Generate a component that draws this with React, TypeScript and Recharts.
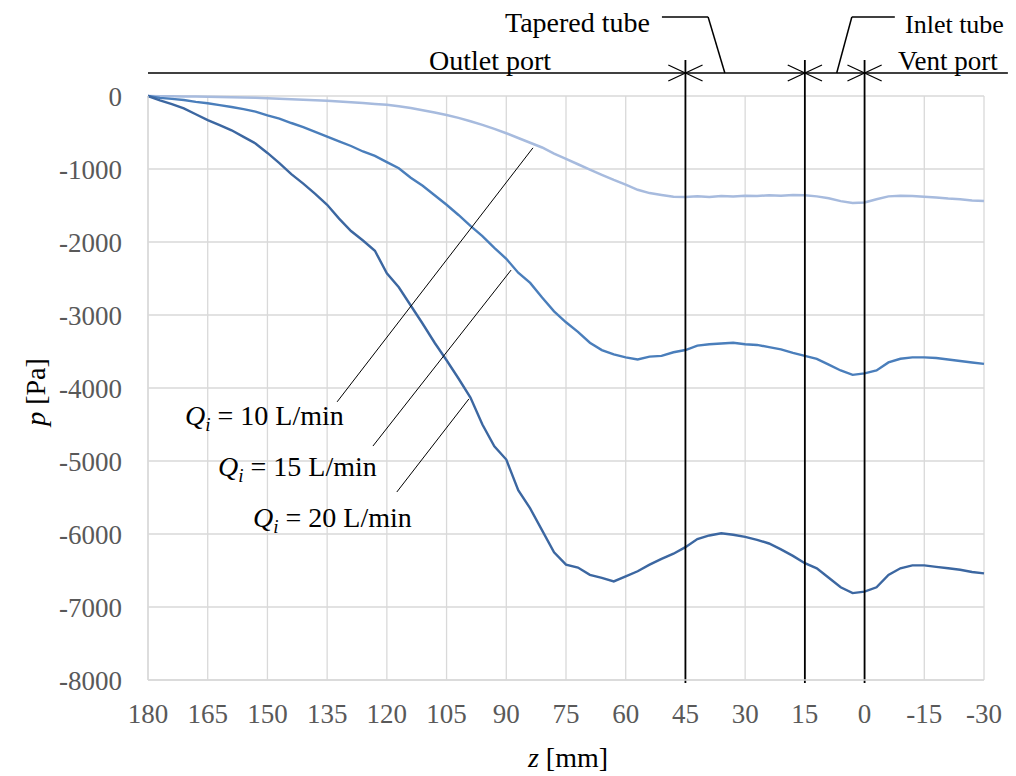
import React from 'react';
import {
  LineChart,
  Line,
  XAxis,
  YAxis,
  CartesianGrid,
  ReferenceLine,
} from 'recharts';

const FONT = '"Liberation Serif", "Times New Roman", serif';

const Z = [
  180, 177, 174, 171, 168, 165, 162, 159, 156, 153,
  150, 147, 144, 141, 138, 135, 132, 129, 126, 123,
  120, 117, 114, 111, 108, 105, 102, 99, 96, 93,
  90, 87, 84, 81, 78, 75, 72, 69, 66, 63,
  60, 57, 54, 51, 48, 45, 42, 39, 36, 33,
  30, 27, 24, 21, 18, 15, 12, 9, 6, 3,
  0, -3, -6, -9, -12, -15, -18, -21, -24, -27,
  -30,
];

// p [Pa] for Qi = 10 L/min
const P10 = [
  0, -2, -4, -6, -8, -10, -13, -17, -21, -25,
  -30, -36, -43, -50, -57, -65, -75, -85, -96, -108,
  -120, -140, -165, -195, -225, -260, -300, -345, -395, -450,
  -510, -575, -640, -705, -790, -860, -935, -1010, -1080, -1150,
  -1215, -1285, -1330, -1355, -1380, -1385, -1375, -1385, -1370, -1375,
  -1365, -1370, -1360, -1365, -1355, -1360, -1375, -1400, -1440, -1465,
  -1460, -1415, -1375, -1365, -1370, -1380, -1390, -1405, -1415, -1430,
  -1440,
];

// p [Pa] for Qi = 15 L/min
const P15 = [
  0, -25, -40, -55, -80, -100, -125, -150, -180, -215,
  -265, -310, -370, -425, -490, -555, -620, -685, -760, -820,
  -905, -990, -1120, -1230, -1360, -1490, -1630, -1780, -1920, -2080,
  -2230, -2420, -2560, -2760, -2950, -3100, -3230, -3380, -3480, -3540,
  -3580, -3610, -3570, -3560, -3510, -3480, -3420, -3400, -3390, -3380,
  -3400, -3410, -3440, -3470, -3520, -3560, -3600, -3680, -3760, -3820,
  -3800, -3760, -3650, -3600, -3580, -3580, -3590, -3610, -3630, -3650,
  -3670,
];

// p [Pa] for Qi = 20 L/min
const P20 = [
  0, -60, -110, -170, -250, -330, -400, -470, -560, -650,
  -780, -920, -1070, -1200, -1340, -1490, -1680, -1850, -1980, -2120,
  -2430, -2620, -2870, -3120, -3380, -3620, -3870, -4130, -4500, -4800,
  -4980, -5400, -5650, -5950, -6250, -6420, -6460, -6560, -6600, -6650,
  -6580, -6510, -6420, -6340, -6270, -6180, -6070, -6020, -5990, -6010,
  -6040, -6080, -6130, -6210, -6300, -6400, -6470, -6600, -6730, -6810,
  -6790, -6730, -6560, -6470, -6430, -6430, -6450, -6470, -6490, -6520,
  -6540,
];

const X_TICKS = [180, 165, 150, 135, 120, 105, 90, 75, 60, 45, 30, 15, 0, -15, -30];
const Y_TICKS = [0, -1000, -2000, -3000, -4000, -5000, -6000, -7000, -8000];

// section boundaries [mm]
const BOUNDS = [45, 15, 0];

const rows = Z.map((z, i) => ({ z, p10: P10[i], p15: P15[i], p20: P20[i] }));

// annotation geometry in data units
const BAR_Y = 315;
const ARROW_DX = 4.3;
const ARROW_DY = 110;

const leaders: Array<[number, number, number, number]> = [
  [132.5, -4190, 83.3, -710],
  [123.5, -4795, 88.8, -2385],
  [117.5, -5425, 99.4, -4150],
  [50.9, 1082, 39.3, 1082],
  [39.3, 1082, 35.1, BAR_Y],
  [3.2, 1082, -7.6, 1082],
  [3.2, 1082, 7.0, BAR_Y],
];

const seg = (x1: number, y1: number, x2: number, y2: number, w: number, key: string) => (
  <ReferenceLine
    key={key}
    segment={[{ x: x1, y: y1 }, { x: x2, y: y2 }]}
    stroke="#000"
    strokeWidth={w}
    ifOverflow="visible"
  />
);

const QLabel = ({ x, y, q }: { x: number; y: number; q: string }) => (
  <text x={x} y={y} fontSize={28} fontFamily={FONT} fill="#000">
    <tspan fontStyle="italic">Q</tspan>
    <tspan fontStyle="italic" fontSize={19} dy={6}>i</tspan>
    <tspan dy={-6}>{` = ${q} L/min`}</tspan>
  </text>
);

export default function App() {
  const annotation: React.ReactNode[] = [];
  annotation.push(seg(180, BAR_Y, -36, BAR_Y, 1.6, 'bar'));
  BOUNDS.forEach((b) => {
    annotation.push(seg(b, 493, b, -8040, 1.8, `v${b}`));
    annotation.push(seg(b + ARROW_DX, BAR_Y + ARROW_DY, b, BAR_Y, 1.3, `a1${b}`));
    annotation.push(seg(b + ARROW_DX, BAR_Y - ARROW_DY, b, BAR_Y, 1.3, `a2${b}`));
    annotation.push(seg(b - ARROW_DX, BAR_Y + ARROW_DY, b, BAR_Y, 1.3, `a3${b}`));
    annotation.push(seg(b - ARROW_DX, BAR_Y - ARROW_DY, b, BAR_Y, 1.3, `a4${b}`));
  });
  leaders.forEach(([x1, y1, x2, y2], i) => {
    annotation.push(seg(x1, y1, x2, y2, i < 3 ? 1 : 1.5, `l${i}`));
  });

  return (
    <div style={{ position: 'relative', width: 1008, height: 768 }}>
      <LineChart
        width={1008}
        height={760}
        data={rows}
        margin={{ top: 88, right: 32, left: 0, bottom: 0 }}
      >
        <CartesianGrid stroke="#d9d9d9" strokeWidth={1.3} />
        <XAxis
          dataKey="z"
          type="number"
          domain={[-30, 180]}
          reversed
          ticks={X_TICKS}
          interval={0}
          height={88}
          tickLine={false}
          tickSize={0}
          tickMargin={24}
          axisLine={{ stroke: '#d9d9d9', strokeWidth: 1.3 }}
          tick={{ fill: '#595959', fontSize: 27, fontFamily: FONT }}
        />
        <YAxis
          type="number"
          domain={[-8000, 0]}
          ticks={Y_TICKS}
          interval={0}
          width={140}
          tickLine={false}
          tickSize={0}
          tickMargin={26}
          axisLine={{ stroke: '#d9d9d9', strokeWidth: 1.3 }}
          tick={{ fill: '#595959', fontSize: 27, fontFamily: FONT }}
        />
        <Line dataKey="p10" stroke="#a7bbde" strokeWidth={2.5} dot={false} isAnimationActive={false} />
        <Line dataKey="p15" stroke="#4a7ebb" strokeWidth={2.4} dot={false} isAnimationActive={false} />
        <Line dataKey="p20" stroke="#3c67a1" strokeWidth={2.4} dot={false} isAnimationActive={false} />
        {annotation}
      </LineChart>
      <svg
        width={1008}
        height={768}
        style={{ position: 'absolute', left: 0, top: 0, pointerEvents: 'none', overflow: 'visible' }}
      >
        <g fontFamily={FONT} fontSize={28} fill="#000">
          <text x={642} y={24} textAnchor="end">Tapered tube</text>
          <text x={897} y={25} fontSize={26}>Inlet tube</text>
          <text x={482} y={62} textAnchor="middle">Outlet port</text>
          <text x={890} y={62} fontSize={27}>Vent port</text>
          <text x={560} y={759} textAnchor="middle">
            <tspan fontStyle="italic">z</tspan> [mm]
          </text>
          <text x={28} y={384} textAnchor="middle" transform="rotate(-90 28 384)" dy={9}>
            <tspan fontStyle="italic">p</tspan> [Pa]
          </text>
        </g>
        <QLabel x={177} y={417} q="10" />
        <QLabel x={210} y={468} q="15" />
        <QLabel x={245} y={519} q="20" />
      </svg>
    </div>
  );
}
